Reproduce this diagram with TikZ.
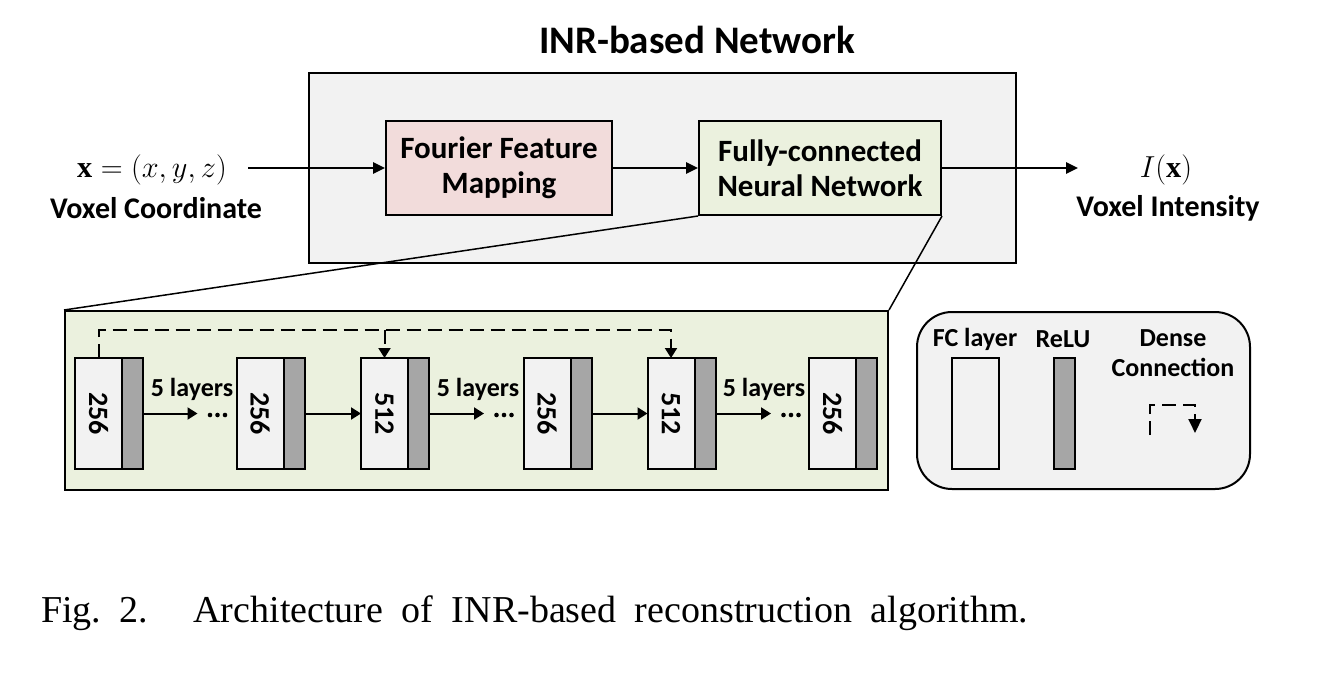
\documentclass[tikz,border=0pt]{standalone}
\usepackage{fontspec}
\setmainfont{Liberation Serif}
\newfontfamily\calibri{Carlito}
\usetikzlibrary{arrows.meta,positioning}
\definecolor{boxgray}{HTML}{F2F2F2}
\definecolor{pinkfill}{HTML}{F2DCDB}
\definecolor{greenfill}{HTML}{EBF1DE}
\definecolor{relugray}{HTML}{A6A6A6}
\tikzset{
every picture/.style={
line width=2pt
}}

\begin{document}
\begin{tikzpicture}[x=1pt, y=-1pt,
lbl/.style = {font=\calibri\bfseries\fontsize{30}{35}\selectfont, align=center, inner sep=0pt},
boxtxt/.style = {font=\calibri\bfseries\fontsize{31}{35}\selectfont, align=center, inner sep=0pt},
mathtxt/.style = {font=\fontsize{24.88}{30}\selectfont, inner sep=0pt},
laytxt/.style = {font=\calibri\bfseries\fontsize{26}{30}\selectfont, align=center, inner sep=0pt},
fcbox/.style = {draw, fill=boxgray, minimum width=47pt, minimum height=111pt, inner sep=0pt, outer sep=0pt, font=\calibri\bfseries\fontsize{28}{30}\selectfont},
relubox/.style = {draw, fill=relugray, minimum width=21pt, minimum height=111pt, inner sep=0pt, outer sep=0pt, anchor=west},
flow/.style = {-{Triangle[length=12pt,width=11pt]}, line width=2.5pt},
link/.style = {-{Triangle[length=10pt,width=12pt]}, line width=2pt},
dense/.style = {dash pattern=on 14pt off 7pt, line width=2pt}]

\useasboundingbox (0,0) rectangle (1329,681);

% top: INR network
\node [draw, fill=boxgray, minimum width=707pt, minimum height=190pt] (inr) at (662.5,168) {};
\node [lbl, font=\calibri\bfseries\fontsize{39}{44}\selectfont] (title) at (697,40) {INR-based Network};

\node [boxtxt, draw, fill=pinkfill, minimum width=226pt, minimum height=94pt] (ffm) at (499,168) {Fourier Feature\\Mapping};
\node [boxtxt, draw, fill=greenfill, minimum width=242pt, minimum height=94pt] (fcn) at (820,168) {Fully-connected\\Neural Network};

\node [mathtxt] (xin) at (152,170) {\scalebox{1.22}{$\mathbf{x}=(x,y,z)$}};
\node [lbl] (xlab) at (156,208) {Voxel Coordinate};
\node [mathtxt] (yout) at (1166,170) {\scalebox{1.22}{$I(\mathbf{x})$}};
\node [lbl] (ylab) at (1168,208) {Voxel Intensity};

\coordinate (xbeg) at (248,168);
\coordinate (yend) at (1078,168);
\draw [flow] (xbeg) -- (ffm.west);
\draw [flow] (ffm.east) -- (fcn.west);
\draw [flow] (fcn.east) -- (yend);

% bottom: layers
\node [draw, fill=greenfill, minimum width=823pt, minimum height=179pt] (detail) at (476.5,400.5) {};
\draw [line width=1.5pt] (fcn.south west) -- (detail.north west);
\draw [line width=1.5pt] (fcn.south east) -- (detail.north east);

\node [fcbox] (l1) at (98.5,413.5) {\rotatebox{-90}{256}};
\node [relubox] (r1) at (l1.east) {};
\node [fcbox] (l2) at (260,413.5) {\rotatebox{-90}{256}};
\node [relubox] (r2) at (l2.east) {};
\node [fcbox] (l3) at (384.5,413.5) {\rotatebox{-90}{512}};
\node [relubox] (r3) at (l3.east) {};
\node [fcbox] (l4) at (547,413.5) {\rotatebox{-90}{256}};
\node [relubox] (r4) at (l4.east) {};
\node [fcbox] (l5) at (671,413.5) {\rotatebox{-90}{512}};
\node [relubox] (r5) at (l5.east) {};
\node [fcbox] (l6) at (832.5,413.5) {\rotatebox{-90}{256}};
\node [relubox] (r6) at (l6.east) {};

\node [laytxt] (n1) at (192,389) {5 layers};
\node [laytxt] (n2) at (478,389) {5 layers};
\node [laytxt] (n3) at (764,389) {5 layers};

% dots after the 5 layers
\coordinate (d1) at (217.5,415);
\coordinate (d2) at (504,415);
\coordinate (d3) at (791,415);
\fill (d1) +(-7.5,0) circle (2.3) (d1) circle (2.3) +(7.5,0) circle (2.3);
\fill (d2) +(-7.5,0) circle (2.3) (d2) circle (2.3) +(7.5,0) circle (2.3);
\fill (d3) +(-7.5,0) circle (2.3) (d3) circle (2.3) +(7.5,0) circle (2.3);

\draw [link, shorten >=20pt] (r1.east) -- (r1.east -| d1);
\draw [link] (r2.east) -- (l3.west);
\draw [link, shorten >=20pt] (r3.east) -- (r3.east -| d2);
\draw [link] (r4.east) -- (l5.west);
\draw [link, shorten >=20pt] (r5.east) -- (r5.east -| d3);

\coordinate (dtop) at (99,330);
\draw [dense, link] (l1.north) |- (l5.north |- dtop) -- (l5.north);
\draw [dense, link] (l3.north |- dtop) -- (l3.north);

% legend
\node [draw, fill=boxgray, rounded corners=35pt, minimum width=333pt, minimum height=177pt] (legend) at (1083.5,400.5) {};
\node [laytxt] (lfc) at (975,339) {FC layer};
\node [laytxt] (lrelu) at (1063,339) {ReLU};
\node [laytxt] (ldense) at (1173,353.5) {Dense\\Connection};
\node [fcbox] (kfc) at (975.5,413.5) {};
\node [relubox, anchor=center] (krelu) at (1064,413.5) {};
\coordinate (ka) at (1150,435);
\coordinate (kc) at (1195,405);
\coordinate (kb) at (1195,433);
\draw [dense, -{Triangle[length=14pt,width=13pt]}] (ka) |- (kc) -- (kb);

% caption
\node [anchor=base west, inner sep=0pt, font=\fontsize{38}{44}\selectfont] (cap) at (40,622)
{\frenchspacing\makebox[987pt][s]{Fig. 2.\hspace{27pt} Architecture of INR-based reconstruction algorithm.}};

\end{tikzpicture}
\end{document}
